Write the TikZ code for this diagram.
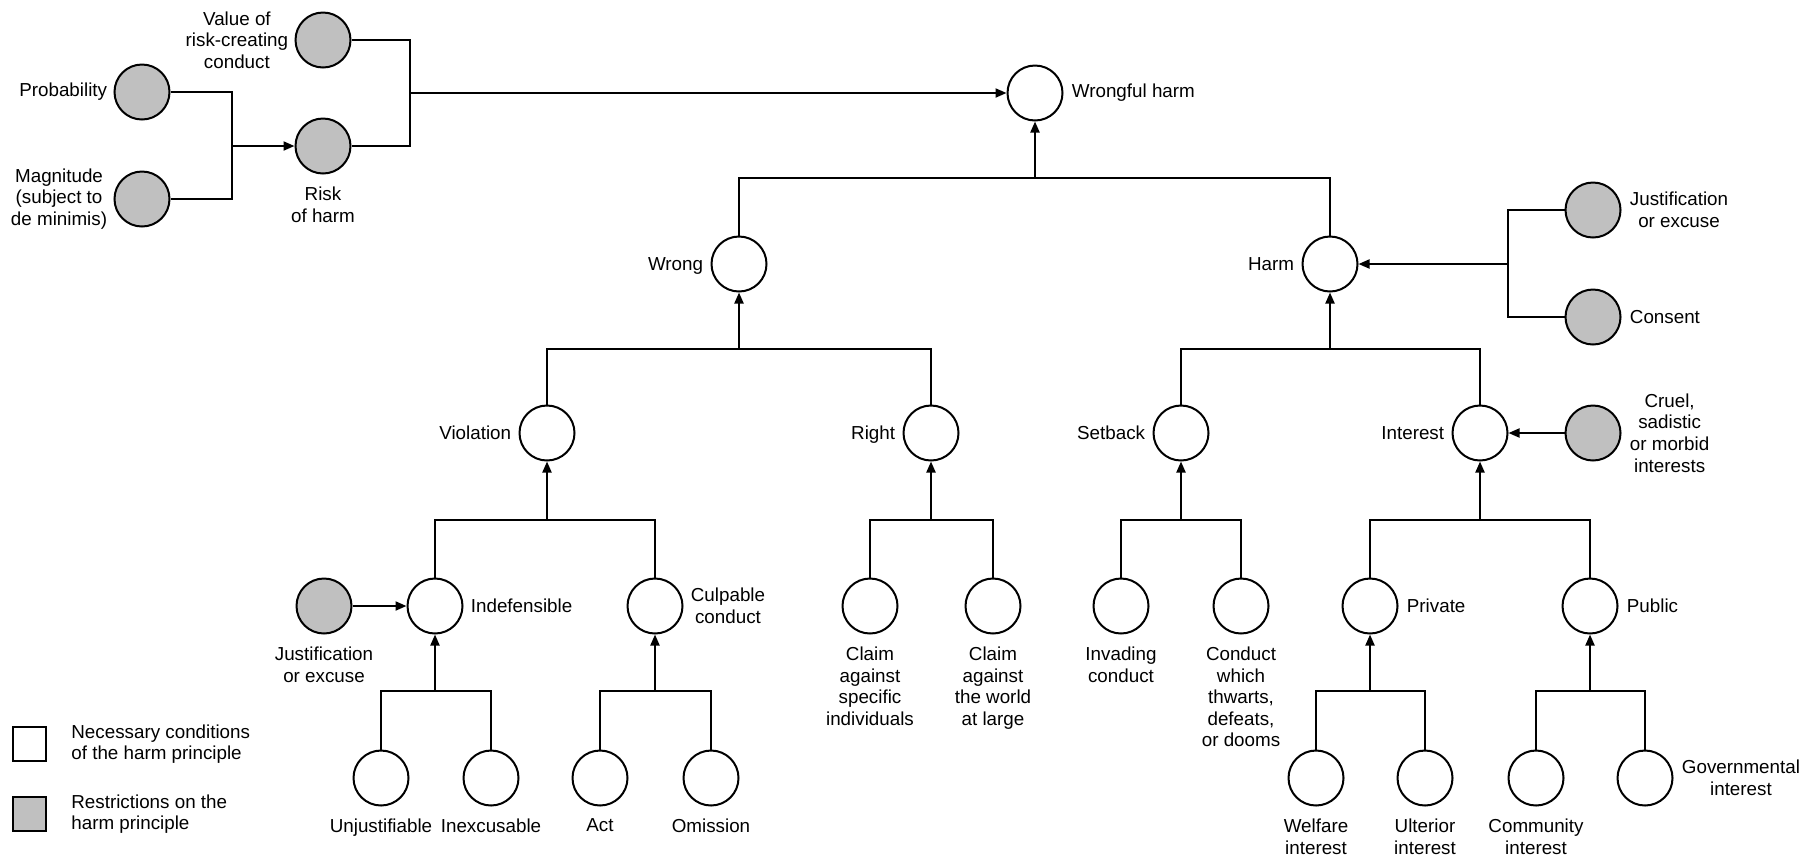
\documentclass[tikz,border=0pt]{standalone}
\usepackage{fontspec}
\setmainfont{Liberation Sans}
\usetikzlibrary{arrows.meta}
\definecolor{restrgray}{RGB}{192,192,192}

\begin{document}
\begin{tikzpicture}[x=0.5pt,y=-0.5pt,
  cond/.style={circle,draw,line width=1pt,minimum size=27.5pt,inner sep=0pt},
  restr/.style={cond,fill=restrgray},
  txt/.style={font=\fontsize{9.4}{10.8}\selectfont,align=center,inner sep=1pt},
  link/.style={line width=1pt},
  arr/.style={link,-{Triangle[length=5.5pt,width=4.5pt]}},
  keybox/.style={draw,line width=1pt,minimum width=16.5pt,minimum height=17pt,inner sep=0pt}]
\useasboundingbox (0,0) rectangle (1802,858);

% Risk of harm
\node[restr] (prob) at (142,92) {};
\node[restr] (magn) at (142,199) {};
\node[restr] (value) at (323,40) {};
\node[restr] (risk) at (323,146) {};
\node[txt,left=2pt] (tprob) at (prob.west) {Probability};
\node[txt,left=2pt] (tmagn) at (magn.west) {Magnitude\\(subject to\\de minimis)};
\node[txt,left=2pt] (tvalue) at (value.west) {Value of\\risk-creating\\conduct};
\node[txt,below=5pt] (trisk) at (risk.south) {Risk\\of harm};
\coordinate (jrisk) at (232,146);
\coordinate (jvalue) at (410,93);
\draw[link] (prob.east) -| (jrisk) |- (magn.east);
\draw[arr] (jrisk) -- (risk);
\draw[link] (value.east) -| (jvalue) |- (risk.east);

% Top
\node[cond] (wharm) at (1035,93) {};
\node[txt,right=3pt] (twharm) at (wharm.east) {Wrongful harm};
\draw[arr] (jvalue) -- (wharm);

% Wrong and harm
\node[cond] (wrong) at (739,264) {};
\node[cond] (harm) at (1330,264) {};
\node[txt,left=2.5pt,yshift=-1pt] (twrong) at (wrong.west) {Wrong};
\node[txt,left=2.5pt] (tharm) at (harm.west) {Harm};
\coordinate (jtop) at (1035,178);
\draw[link] (wrong.north) |- (jtop) -| (harm.north);
\draw[arr] (jtop) -- (wharm);

% Restrictions on harm
\node[restr] (justr) at (1593,210) {};
\node[restr] (consent) at (1593,317) {};
\node[txt,right=3pt] (tjustr) at (justr.east) {Justification\\or excuse};
\node[txt,right=3pt] (tconsent) at (consent.east) {Consent};
\coordinate (jharmr) at (1508,264);
\draw[link] (justr.west) -| (jharmr) |- (consent.west);
\draw[arr] (jharmr) -- (harm);

% Third row
\node[cond] (viol) at (547,433) {};
\node[cond] (right) at (931,433) {};
\node[cond] (setback) at (1181,433) {};
\node[cond] (interest) at (1480,433) {};
\node[restr] (cruel) at (1593,433) {};
\node[txt,left=2.5pt] (tviol) at (viol.west) {Violation};
\node[txt,left=2.5pt,yshift=-1pt] (tright) at (right.west) {Right};
\node[txt,left=2.5pt] (tsetback) at (setback.west) {Setback};
\node[txt,left=2.5pt] (tinterest) at (interest.west) {Interest};
\node[txt,right=3pt] (tcruel) at (cruel.east) {Cruel,\\sadistic\\or morbid\\interests};
\coordinate (jwrong) at (739,349);
\coordinate (jharm) at (1330,349);
\draw[link] (viol.north) |- (jwrong) -| (right.north);
\draw[arr] (jwrong) -- (wrong);
\draw[link] (setback.north) |- (jharm) -| (interest.north);
\draw[arr] (jharm) -- (harm);
\draw[arr] (cruel) -- (interest);

% Fourth row
\node[restr] (justl) at (324,606) {};
\node[cond] (indef) at (435,606) {};
\node[cond] (culp) at (655,606) {};
\node[cond] (claima) at (870,606) {};
\node[cond] (claimb) at (993,606) {};
\node[cond] (invad) at (1121,606) {};
\node[cond] (thwart) at (1241,606) {};
\node[cond] (private) at (1370,606) {};
\node[cond] (public) at (1590,606) {};
\node[txt,below=5pt] (tjustl) at (justl.south) {Justification\\or excuse};
\node[txt,right=2.5pt] (tindef) at (indef.east) {Indefensible};
\node[txt,right=2.5pt] (tculp) at (culp.east) {Culpable\\conduct};
\node[txt,below=5pt] (tclaima) at (claima.south) {Claim\\against\\specific\\individuals};
\node[txt,below=5pt] (tclaimb) at (claimb.south) {Claim\\against\\the world\\at large};
\node[txt,below=5pt] (tinvad) at (invad.south) {Invading\\conduct};
\node[txt,below=5pt] (tthwart) at (thwart.south) {Conduct\\which\\thwarts,\\defeats,\\or dooms};
\node[txt,right=3pt] (tprivate) at (private.east) {Private};
\node[txt,right=3pt] (tpublic) at (public.east) {Public};
\coordinate (jviol) at (547,520);
\coordinate (jright) at (931,520);
\coordinate (jset) at (1181,520);
\coordinate (jint) at (1480,520);
\draw[arr] (justl) -- (indef);
\draw[link] (indef.north) |- (jviol) -| (culp.north);
\draw[arr] (jviol) -- (viol);
\draw[link] (claima.north) |- (jright) -| (claimb.north);
\draw[arr] (jright) -- (right);
\draw[link] (invad.north) |- (jset) -| (thwart.north);
\draw[arr] (jset) -- (setback);
\draw[link] (private.north) |- (jint) -| (public.north);
\draw[arr] (jint) -- (interest);

% Bottom row
\node[cond] (unjust) at (381,778) {};
\node[cond] (inexc) at (491,778) {};
\node[cond] (act) at (600,778) {};
\node[cond] (omis) at (711,778) {};
\node[cond] (welf) at (1316,778) {};
\node[cond] (ulter) at (1425,778) {};
\node[cond] (commun) at (1536,778) {};
\node[cond] (govern) at (1645,778) {};
\node[txt,below=5pt] (tunjust) at (unjust.south) {Unjustifiable};
\node[txt,below=5pt] (tinexc) at (inexc.south) {Inexcusable};
\node[txt,below=5pt] (tact) at (act.south) {Act};
\node[txt,below=5pt] (tomis) at (omis.south) {Omission};
\node[txt,below=5pt] (twelf) at (welf.south) {Welfare\\interest};
\node[txt,below=5pt] (tulter) at (ulter.south) {Ulterior\\interest};
\node[txt,below=5pt] (tcommun) at (commun.south) {Community\\interest};
\node[txt,right=3pt] (tgovern) at (govern.east) {Governmental\\interest};
\coordinate (jindef) at (435,691);
\coordinate (jculp) at (655,691);
\coordinate (jpriv) at (1370,691);
\coordinate (jpub) at (1590,691);
\draw[link] (unjust.north) |- (jindef) -| (inexc.north);
\draw[arr] (jindef) -- (indef);
\draw[link] (act.north) |- (jculp) -| (omis.north);
\draw[arr] (jculp) -- (culp);
\draw[link] (welf.north) |- (jpriv) -| (ulter.north);
\draw[arr] (jpriv) -- (private);
\draw[link] (commun.north) |- (jpub) -| (govern.north);
\draw[arr] (jpub) -- (public);

% Key
\node[keybox] (keycond) at (29.5,744) {};
\node[keybox,fill=restrgray] (keyrestr) at (29.5,814) {};
\node[txt,align=left,right=11pt] (tkeycond) at (keycond.east) {Necessary conditions\\of the harm principle};
\node[txt,align=left,right=11pt] (tkeyrestr) at (keyrestr.east) {Restrictions on the\\harm principle};
\end{tikzpicture}
\end{document}
